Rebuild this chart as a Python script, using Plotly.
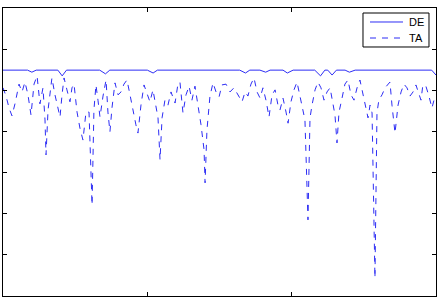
import plotly.graph_objects as go

# Sample positions / values
ta_x = [0, 2.1, 4.2, 6.2, 8.3, 11.1, 13.2, 15.2, 17.3, 19.4, 21.5, 23.6, 25.6, 27.7, 29.1, 29.8,
        31.2, 32.6, 33.9, 36.0, 38.1, 39.5, 40.9, 42.3, 44.3, 46.4, 47.8, 49.2, 51.3, 53.3, 55.4,
        57.5, 59.6, 61.7, 63.0, 64.4, 65.8, 67.2, 69.3, 71.4, 72.7, 74.1, 75.5, 77.6, 79.7, 81.8,
        83.8, 85.9, 88.0, 90.1, 92.1, 93.5, 95.6, 97.7, 99.8, 101.8, 103.9, 106.0, 107.4, 108.8,
        110.2, 112.2, 114.3, 116.4, 119.2, 121.2, 122.6, 124.7, 126.8, 128.9, 130.9, 133.0, 135.1,
        137.2, 139.3, 140.0, 141.3, 143.4, 145.5, 147.6, 149.7, 151.7, 154.5, 157.3, 160.0, 162.8,
        165.6, 167.7, 169.7, 171.8, 173.9, 176.0, 178.1, 180.1, 182.2, 184.3, 186.4, 188.5, 190.5,
        191.9, 194.0, 196.1, 197.5, 199.5, 201.6, 203.7, 205.8, 207.9, 209.2, 211.3, 212.7, 214.1,
        216.2, 218.2, 220.3, 222.4, 224.5, 226.6, 228.6, 230.0, 231.4, 232.8, 234.9, 236.9, 239.0,
        241.1, 243.2, 245.3, 247.3, 249.4, 251.5, 252.9, 254.3, 255.7, 257.7, 259.1, 260.4, 262.6,
        264.7, 266.7, 268.1, 269.5, 271.6, 273.7, 275.8, 277.8, 279.9, 282.0, 284.1, 286.1, 288.2,
        289.6, 290.9, 293.0, 295.1, 297.2, 298.6, 300.0]
ta_y = [50.6, 48.6, 45.7, 43.8, 46.7, 51.5, 49.6, 52.0, 48.9, 44.0, 51.5, 53.5, 46.7, 50.6, 42.8, 34.3,
        45.2, 50.1, 53.0, 48.9, 45.7, 43.5, 48.9, 53.0, 50.1, 47.2, 50.6, 51.5, 44.7, 40.8, 37.9,
        44.7, 44.7, 22.1, 45.2, 51.3, 47.6, 43.5, 48.6, 52.5, 44.7, 39.9, 45.7, 51.8, 48.9, 49.6,
        51.5, 52.5, 48.9, 44.7, 41.6, 39.6, 46.4, 51.3, 48.9, 47.2, 50.1, 46.4, 43.3, 33.1,
        43.3, 47.6, 46.4, 49.6, 46.9, 51.5, 52.0, 44.5, 48.9, 51.0, 47.6, 51.0, 46.4,
        41.6, 35.5, 27.5, 40.3, 48.6, 51.8, 49.6, 48.4, 51.3, 51.5, 49.6, 50.6, 48.9,
        47.2, 49.6, 48.6, 51.5, 53.0, 49.6, 48.1, 50.6, 47.6, 43.5, 48.9, 50.1, 46.4,
        45.2, 48.1, 44.7, 42.0, 47.2, 50.1, 52.0, 48.6, 44.7, 42.8, 18.5, 43.3, 46.4,
        50.1, 52.0, 50.6, 47.6, 49.6, 50.6, 46.4, 44.0, 37.2, 44.7, 48.1, 51.5, 52.5,
        48.9, 47.6, 50.6, 52.5, 48.9, 45.2, 43.3, 46.4, 44.5, 4.4, 44.5, 47.6, 48.9,
        50.6, 51.5, 52.0, 46.4, 39.6, 46.4, 49.6, 51.5, 50.6, 48.6, 49.6, 51.3, 48.9,
        47.6, 51.3, 51.0, 48.6, 45.7, 47.6, 48.9]

de_x = [0, 17, 20, 23, 38, 41, 44, 67, 71, 74, 100, 104, 107, 164, 168, 171, 178, 182, 185,
        194, 197, 201, 216, 220, 223, 225, 228, 231, 237, 240, 244, 297, 300]
de_y = [54.9, 54.9, 54.4, 54.9, 54.9, 53.5, 54.9, 54.9, 54.0, 54.9, 54.9, 54.2, 54.9, 54.9, 54.2,
        54.9, 54.9, 54.4, 54.9, 54.9, 54.2, 54.9, 54.9, 53.5, 54.9, 54.9, 53.7, 54.9, 54.9, 54.4,
        54.9, 54.9, 53.7]

series_names = ["DE", "TA"]
x_ticks = [100, 200]
y_ticks = [10, 20, 30, 40, 50, 60]

blue = "rgb(45,45,245)"
ta_dash = "6px,6px"
fig = go.Figure()
fig.add_trace(go.Scatter(x=de_x, y=de_y, mode="lines", name=series_names[0],
                         line=dict(color=blue, width=1), showlegend=False))
fig.add_trace(go.Scatter(x=ta_x, y=ta_y, mode="lines", name=series_names[1],
                         line=dict(color=blue, width=1, dash=ta_dash), showlegend=False))

axis_common = dict(showline=True, linecolor="black", linewidth=1, mirror="ticks",
                   ticks="inside", ticklen=4, tickcolor="black", showticklabels=False,
                   showgrid=False, zeroline=False)
fig.update_xaxes(range=[0, 300], tickvals=x_ticks, **axis_common)
fig.update_yaxes(range=[0, 70], tickvals=y_ticks, **axis_common)

# Manual legend box (MATLAB style) in paper coordinates
box = dict(x0=0.8314, x1=0.9838, y0=0.8646, y1=0.9826)
rows_y = [0.9514, 0.8958]
line_x = [0.8476, 0.9238]
text_x = 0.9330
shapes = [dict(type="rect", xref="paper", yref="paper", line=dict(color="black", width=1),
               fillcolor="white", layer="above", **box)]
annotations = []
for name, ry, dash in zip(series_names, rows_y, ["solid", ta_dash]):
    shapes.append(dict(type="line", xref="paper", yref="paper", x0=line_x[0], x1=line_x[1],
                       y0=ry, y1=ry, line=dict(color=blue, width=1, dash=dash), layer="above"))
    annotations.append(dict(text=name, xref="paper", yref="paper", x=text_x, y=ry,
                            xanchor="left", yanchor="middle", showarrow=False,
                            font=dict(size=11, color="black")))

fig.update_layout(
    width=440, height=300,
    margin=dict(l=3, r=4, t=8, b=4),
    paper_bgcolor="white", plot_bgcolor="white",
    font=dict(family="Liberation Sans, Arial, sans-serif", size=11, color="black"),
    shapes=shapes, annotations=annotations,
    showlegend=False,
)

fig.write_html("out.html")
